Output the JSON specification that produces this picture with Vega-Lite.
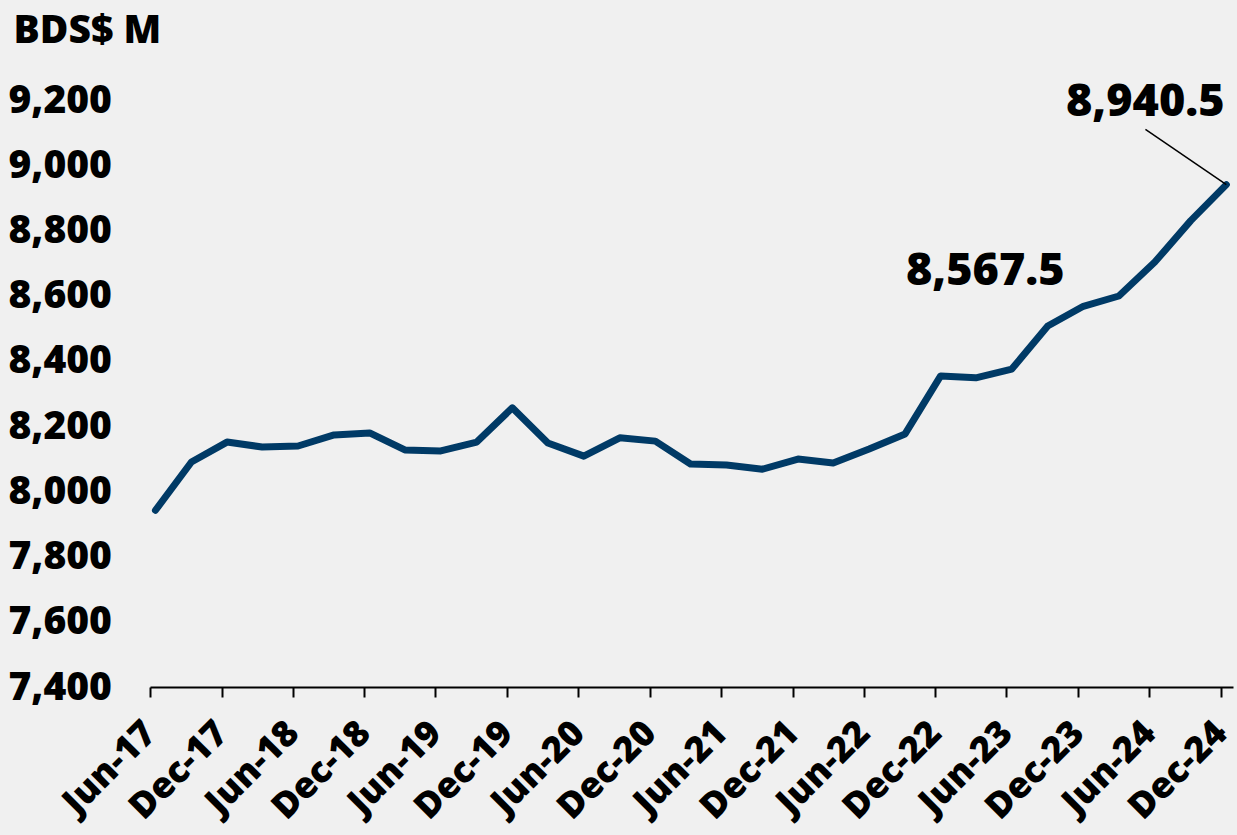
{
  "$schema": "https://vega.github.io/schema/vega-lite/v6.json",
  "width": 1083,
  "height": 587,
  "autosize": {"type": "none"},
  "padding": {"left": 150, "top": 100, "right": 4, "bottom": 148},
  "background": "#f0f0f0",
  "config": {
    "view": {"stroke": null},
    "font": "Open Sans",
    "axis": {"labelFont": "Open Sans", "titleFont": "Open Sans", "labelFontWeight": 800, "titleFontWeight": 800, "labelColor": "#000000", "titleColor": "#000000"}
  },
  "data": {
    "values": [
      {"date": "2017-06-15", "value": 7942},
      {"date": "2017-09-15", "value": 8090},
      {"date": "2017-12-15", "value": 8151},
      {"date": "2018-03-15", "value": 8136},
      {"date": "2018-06-15", "value": 8139},
      {"date": "2018-09-15", "value": 8173},
      {"date": "2018-12-15", "value": 8179},
      {"date": "2019-03-15", "value": 8127},
      {"date": "2019-06-15", "value": 8124},
      {"date": "2019-09-15", "value": 8151},
      {"date": "2019-12-15", "value": 8256},
      {"date": "2020-03-15", "value": 8148},
      {"date": "2020-06-15", "value": 8108},
      {"date": "2020-09-15", "value": 8164},
      {"date": "2020-12-15", "value": 8154},
      {"date": "2021-03-15", "value": 8084},
      {"date": "2021-06-15", "value": 8081},
      {"date": "2021-09-15", "value": 8068},
      {"date": "2021-12-15", "value": 8099},
      {"date": "2022-03-15", "value": 8087},
      {"date": "2022-06-15", "value": 8130},
      {"date": "2022-09-15", "value": 8176},
      {"date": "2022-12-15", "value": 8354},
      {"date": "2023-03-15", "value": 8348},
      {"date": "2023-06-15", "value": 8375},
      {"date": "2023-09-15", "value": 8507},
      {"date": "2023-12-15", "value": 8567.5, "label": "8,567.5"},
      {"date": "2024-03-15", "value": 8599},
      {"date": "2024-06-15", "value": 8703},
      {"date": "2024-09-15", "value": 8830},
      {"date": "2024-12-15", "value": 8940.5, "label": "8,940.5"}
    ]
  },
  "encoding": {
    "x": {
      "field": "date",
      "type": "temporal",
      "scale": {"type": "utc", "domain": [{"year": 2017, "month": 6, "date": 1, "utc": true}, {"year": 2025, "month": 1, "date": 1, "utc": true}]},
      "axis": {
        "title": null,
        "format": "%b-%y",
        "values": [
          {"year": 2017, "month": 6, "date": 1, "utc": true},
          {"year": 2017, "month": 12, "date": 1, "utc": true},
          {"year": 2018, "month": 6, "date": 1, "utc": true},
          {"year": 2018, "month": 12, "date": 1, "utc": true},
          {"year": 2019, "month": 6, "date": 1, "utc": true},
          {"year": 2019, "month": 12, "date": 1, "utc": true},
          {"year": 2020, "month": 6, "date": 1, "utc": true},
          {"year": 2020, "month": 12, "date": 1, "utc": true},
          {"year": 2021, "month": 6, "date": 1, "utc": true},
          {"year": 2021, "month": 12, "date": 1, "utc": true},
          {"year": 2022, "month": 6, "date": 1, "utc": true},
          {"year": 2022, "month": 12, "date": 1, "utc": true},
          {"year": 2023, "month": 6, "date": 1, "utc": true},
          {"year": 2023, "month": 12, "date": 1, "utc": true},
          {"year": 2024, "month": 6, "date": 1, "utc": true},
          {"year": 2024, "month": 12, "date": 1, "utc": true}
        ],
        "labelAngle": -45,
        "labelAlign": "right",
        "labelBaseline": "middle",
        "labelFontSize": 36,
        "labelPadding": 30,
        "labelOverlap": false,
        "labelFlush": false,
        "domainColor": "#000000",
        "domainWidth": 2,
        "tickColor": "#000000",
        "tickWidth": 2,
        "tickSize": 10,
        "grid": false
      }
    },
    "y": {
      "field": "value",
      "type": "quantitative",
      "scale": {"domain": [7400, 9200], "nice": false, "zero": false},
      "axis": {
        "title": "BDS$ M",
        "titleAngle": 0,
        "titleAlign": "left",
        "titleBaseline": "alphabetic",
        "titleX": -137,
        "titleY": -58,
        "titleFontSize": 39,
        "values": [7400, 7600, 7800, 8000, 8200, 8400, 8600, 8800, 9000, 9200],
        "format": ",d",
        "labelAlign": "left",
        "labelBaseline": "middle",
        "labelPadding": 142,
        "labelFontSize": 39,
        "labelFlush": false,
        "labelOverlap": false,
        "domain": false,
        "ticks": false,
        "tickSize": 0,
        "grid": false
      }
    }
  },
  "layer": [
    {
      "mark": {"type": "line", "color": "#003a66", "strokeWidth": 7, "strokeCap": "round", "strokeJoin": "round"}
    },
    {
      "transform": [{"filter": "datum.label == '8,940.5'"}],
      "mark": {"type": "rule", "color": "#000000", "strokeWidth": 1.5},
      "encoding": {
        "x2": {"datum": {"year": 2024, "month": 5, "date": 22, "utc": true}},
        "y2": {"datum": 9110}
      }
    },
    {
      "transform": [{"filter": "datum.label == '8,940.5'"}],
      "mark": {"type": "text", "fontSize": 45, "fontWeight": 800, "font": "Open Sans", "color": "#000000", "align": "center", "baseline": "middle", "dx": -81, "dy": -83},
      "encoding": {"text": {"field": "label"}}
    },
    {
      "transform": [{"filter": "datum.label == '8,567.5'"}],
      "mark": {"type": "text", "fontSize": 45, "fontWeight": 800, "font": "Open Sans", "color": "#000000", "align": "center", "baseline": "middle", "dx": -98, "dy": -35},
      "encoding": {"text": {"field": "label"}}
    }
  ]
}
